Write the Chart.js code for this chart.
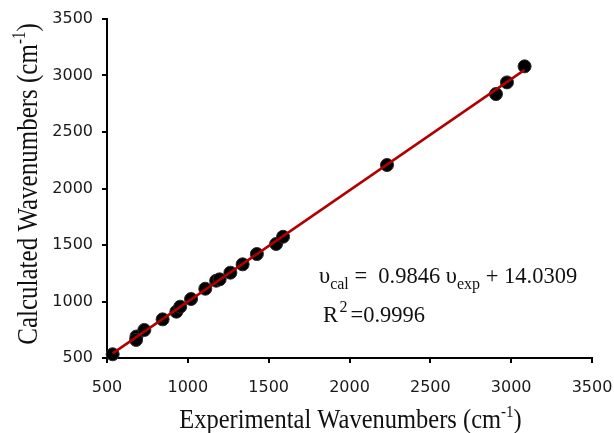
<!DOCTYPE html>
<html>
<head>
<meta charset="utf-8">
<script src="https://cdn.jsdelivr.net/npm/chart.js@4/dist/chart.umd.min.js"></script>
<style>
  html, body { margin: 0; padding: 0; background: #fff; }
  #wrap { width: 614px; height: 433px; }
</style>
</head>
<body>
<div id="wrap"><canvas id="c" width="614" height="433"></canvas></div>
<script>
// Experimental vs. calculated vibrational wavenumbers (cm-1)
const expWavenumbers  = [535, 682, 680, 731, 844, 929, 953, 1020, 1108, 1175, 1197, 1263, 1339, 1427, 1546, 1589, 2232, 2906, 2974, 3083];
const calcWavenumbers = [533, 690, 660, 748, 842, 910, 954, 1022, 1113, 1184, 1196, 1255, 1329, 1420, 1509, 1573, 2208, 2836, 2939, 3081];

// Linear fit: v_cal = slope * v_exp + intercept
const fitSlope = 0.9846;
const fitIntercept = 14.0309;
const fitR2 = 0.9996;
const fitRange = [535, 3083];

const xTicks = [500, 1000, 1500, 2000, 2500, 3000, 3500];
const yTicks = [500, 1000, 1500, 2000, 2500, 3000, 3500];

const points = expWavenumbers.map((x, i) => ({ x: x, y: calcWavenumbers[i] }));
const fitLine = fitRange.map(x => ({ x: x, y: fitSlope * x + fitIntercept }));

const SERIF = '"Liberation Serif", "Times New Roman", serif';
const SANS = '"DejaVu Sans", Verdana, sans-serif';

// Draw a run of text pieces with their own size, gap and vertical shift
function drawRich(ctx, x, y, parts) {
  let cx = x;
  for (const p of parts) {
    ctx.font = p.size + 'px ' + SERIF;
    cx += p.dx || 0;
    ctx.fillText(p.t, cx, y + (p.dy || 0));
    cx += ctx.measureText(p.t).width;
  }
  return cx - x;
}
function richWidth(ctx, parts) {
  let w = 0;
  for (const p of parts) {
    ctx.font = p.size + 'px ' + SERIF;
    w += ctx.measureText(p.t).width + (p.dx || 0);
  }
  return w;
}

const textPlugin = {
  id: 'axisTextAndFit',
  afterDraw(chart) {
    const ctx = chart.ctx;
    const area = chart.chartArea;
    ctx.save();
    ctx.fillStyle = '#111';
    ctx.textBaseline = 'alphabetic';
    ctx.textAlign = 'left';

    // x axis title
    const xt = [
      { t: 'Experimental Wavenumbers (cm', size: 24.5 },
      { t: '-1', size: 15, dy: -10 },
      { t: ')', size: 24.5 }
    ];
    const xw = richWidth(ctx, xt);
    const xc = (area.left + area.right) / 2 + 1;
    ctx.save();
    ctx.translate(xc - xw / 2, 428);
    ctx.scale(1, 1.08);
    drawRich(ctx, 0, 0, xt);
    ctx.restore();

    // y axis title
    const yt = [
      { t: 'Calculated Wavenumbers (cm', size: 25 },
      { t: '-1', size: 15, dy: -10 },
      { t: ')', size: 25 }
    ];
    const yw = richWidth(ctx, yt);
    ctx.save();
    ctx.translate(37, 184);
    ctx.rotate(-Math.PI / 2);
    ctx.scale(1, 1.2);
    drawRich(ctx, -yw / 2, 0, yt);
    ctx.restore();

    // fit equation
    const ex = area.left + 212;
    drawRich(ctx, ex, 283, [
      { t: '\u03C5', size: 22.5 },
      { t: 'cal', size: 16, dy: 6 },
      { t: ' =  ' + fitSlope.toFixed(4) + ' ', size: 22.5 },
      { t: '\u03C5', size: 22.5 },
      { t: 'exp', size: 16, dy: 6 },
      { t: ' + ' + fitIntercept.toFixed(4), size: 22.5 }
    ]);
    drawRich(ctx, ex + 4, 322, [
      { t: 'R', size: 22.5 },
      { t: '2', size: 16, dy: -10, dx: 1.5 },
      { t: '=' + fitR2.toFixed(4), size: 22.5, dx: 3 }
    ]);
    ctx.restore();
  }
};

new Chart(document.getElementById('c'), {
  type: 'scatter',
  data: {
    datasets: [
      {
        type: 'line',
        label: 'fit',
        data: fitLine,
        borderColor: '#b00000',
        borderWidth: 2.5,
        pointRadius: 0,
        fill: false,
        order: 0
      },
      {
        label: 'points',
        data: points,
        backgroundColor: '#000',
        borderColor: '#2a2a2a',
        borderWidth: 1,
        pointRadius: 6.5,
        clip: false,
        order: 1
      }
    ]
  },
  options: {
    responsive: false,
    animation: false,
    devicePixelRatio: 1,
    layout: { padding: { left: 0, top: 19, right: 0, bottom: 0 } },
    plugins: {
      legend: { display: false },
      tooltip: { enabled: false }
    },
    scales: {
      x: {
        type: 'linear',
        min: xTicks[0],
        max: xTicks[xTicks.length - 1],
        afterBuildTicks: s => { s.ticks = xTicks.map(v => ({ value: v })); },
        afterFit: s => { s.height = 75; s.paddingRight = 22; },
        border: { display: true, color: '#000', width: 2 },
        grid: { display: true, drawOnChartArea: false, drawTicks: true, tickLength: 5, color: '#000', lineWidth: 2 },
        ticks: {
          padding: 15,
          color: '#1a1a1a',
          font: { family: SANS, size: 16 },
          callback: v => String(v)
        }
      },
      y: {
        type: 'linear',
        min: yTicks[0],
        max: yTicks[yTicks.length - 1],
        afterBuildTicks: s => { s.ticks = yTicks.map(v => ({ value: v })); },
        afterFit: s => { s.width = 107; },
        border: { display: true, color: '#000', width: 2 },
        grid: { display: true, drawOnChartArea: false, drawTicks: true, tickLength: 5, color: '#000', lineWidth: 2 },
        ticks: {
          padding: 9,
          color: '#1a1a1a',
          font: { family: SANS, size: 16 },
          callback: v => String(v)
        }
      }
    }
  },
  plugins: [textPlugin]
});
</script>
</body>
</html>
